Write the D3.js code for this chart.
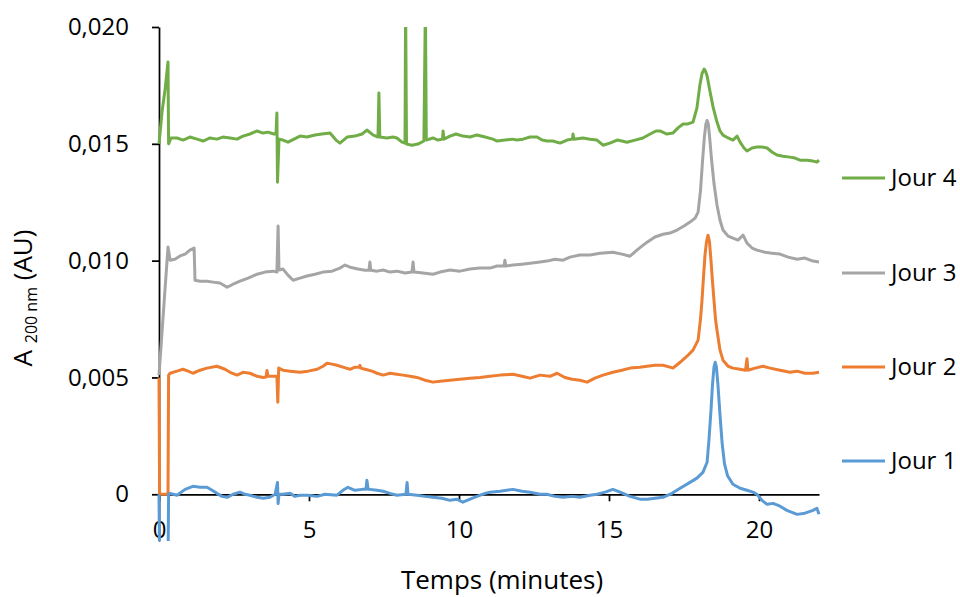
<!DOCTYPE html>
<html>
<head>
<meta charset="utf-8">
<script src="https://cdn.jsdelivr.net/npm/d3@7"></script>
<style>
  html, body { margin: 0; padding: 0; background: #fff; }
  svg { display: block; }
  text { font-family: "Open Sans", sans-serif; fill: #000; }
</style>
</head>
<body>
<svg id="chart" width="960" height="597"></svg>
<script>
// ---- DATA (absorbance in mAU, i.e. 1e-3 AU; time in minutes) ----
const seriesNames = ["Jour 4", "Jour 3", "Jour 2", "Jour 1"];
const seriesColors = ["#70AD47", "#A5A5A5", "#ED7D31", "#5B9BD5"];
const xTicks = [0, 5, 10, 15, 20];
const yTicks = [0, 5, 10, 15, 20];

const jour1 = [[0,0],[0.02,-3],[0.3,-3],[0.32,0],[0.37,0.04],[0.6,-0.04],[0.87,0.21],[1.13,0.34],[1.37,0.30],[1.6,0.30],[1.77,0.17],[1.93,0.04],[2.1,-0.09],[2.27,-0.13],[2.47,0],[2.7,0.09],[2.87,0],[3.03,-0.04],[3.27,-0.13],[3.47,-0.17],[3.7,-0.13],[3.87,0],[3.95,0.5],[3.97,-0.4],[4.0,0],[4.13,0],[4.37,0.04],[4.53,-0.09],[4.7,-0.04],[4.97,-0.04],[5.27,-0.09],[5.53,0],[5.93,-0.04],[6.13,0.17],[6.3,0.30],[6.53,0.17],[6.77,0.21],[6.9,0.21],[6.93,0.6],[6.97,0.21],[7.03,0.21],[7.27,0.17],[7.47,0.13],[7.7,0.04],[7.93,-0.04],[8.23,0],[8.27,0.5],[8.3,0],[8.6,-0.04],[8.87,-0.09],[9.13,-0.13],[9.43,-0.17],[9.7,-0.26],[9.93,-0.21],[10.13,-0.34],[10.37,-0.21],[10.6,-0.09],[10.87,0.04],[11.03,0.09],[11.37,0.13],[11.8,0.21],[12.1,0.13],[12.37,0.09],[12.7,0],[12.93,0],[13.2,-0.09],[13.47,-0.13],[13.77,-0.09],[14.03,-0.13],[14.37,-0.04],[14.6,0],[14.87,0.09],[15.13,0.21],[15.37,0.09],[15.7,-0.09],[16.03,-0.21],[16.27,-0.21],[16.53,-0.17],[16.8,-0.13],[17.1,0.04],[17.37,0.26],[17.7,0.51],[17.93,0.69],[18.13,0.94],[18.27,1.37],[18.33,2.3],[18.4,3.6],[18.45,4.7],[18.5,5.45],[18.54,5.65],[18.58,5.45],[18.63,4.7],[18.7,3.4],[18.77,2.2],[18.85,1.3],[18.95,0.8],[19.13,0.43],[19.37,0.26],[19.6,0.17],[19.8,0.09],[19.93,0],[20.1,-0.26],[20.27,-0.43],[20.47,-0.39],[20.7,-0.51],[20.93,-0.69],[21.27,-0.86],[21.53,-0.81],[21.8,-0.69],[21.93,-0.6],[22,-0.86]];

const jour2 = [[0,5.0],[0.02,0],[0.3,0],[0.32,5.1],[0.37,5.18],[0.6,5.27],[0.8,5.35],[0.97,5.27],[1.13,5.18],[1.37,5.31],[1.6,5.4],[1.93,5.48],[2.2,5.35],[2.37,5.22],[2.6,5.1],[2.8,5.22],[3.03,5.18],[3.27,5.05],[3.47,5.0],[3.57,5.02],[3.6,5.3],[3.63,5.05],[3.8,5.05],[3.93,5.05],[3.96,3.94],[3.99,5.4],[4.13,5.31],[4.37,5.27],[4.7,5.22],[4.97,5.27],[5.27,5.35],[5.47,5.48],[5.6,5.61],[5.77,5.57],[5.93,5.52],[6.13,5.44],[6.37,5.35],[6.53,5.44],[6.68,5.45],[6.7,5.52],[6.72,5.4],[6.87,5.35],[7.1,5.27],[7.27,5.18],[7.47,5.1],[7.7,5.18],[7.93,5.14],[8.13,5.1],[8.37,5.05],[8.6,5.0],[8.87,4.88],[9.13,4.8],[9.37,4.84],[9.7,4.88],[10.03,4.92],[10.37,4.97],[10.7,5.0],[11.03,5.05],[11.37,5.1],[11.8,5.14],[12.1,5.05],[12.37,4.97],[12.7,5.1],[13.03,5.05],[13.27,5.18],[13.53,5.0],[13.77,4.92],[14.03,4.88],[14.27,4.8],[14.53,4.97],[14.8,5.1],[15.13,5.22],[15.43,5.31],[15.7,5.4],[16.03,5.44],[16.27,5.48],[16.53,5.52],[16.8,5.52],[17.03,5.44],[17.13,5.4],[17.37,5.65],[17.6,5.91],[17.8,6.17],[17.97,6.6],[18.05,7.5],[18.1,8.3],[18.15,9.3],[18.2,10.24],[18.25,10.8],[18.3,11.09],[18.35,10.8],[18.4,10.0],[18.45,9.1],[18.5,8.3],[18.55,7.5],[18.6,7.02],[18.7,6.17],[18.8,5.74],[18.97,5.48],[19.13,5.4],[19.37,5.35],[19.55,5.31],[19.6,5.8],[19.63,5.31],[19.87,5.4],[20.13,5.48],[20.37,5.4],[20.7,5.31],[21.03,5.22],[21.27,5.27],[21.53,5.18],[21.8,5.18],[22,5.22]];

const jour3 = [[0,5.1],[0.3,10.58],[0.37,10.02],[0.53,10.06],[0.7,10.2],[0.87,10.28],[1.03,10.45],[1.17,10.54],[1.2,9.16],[1.37,9.12],[1.6,9.12],[1.8,9.08],[2.03,9.04],[2.27,8.86],[2.47,8.99],[2.7,9.12],[2.97,9.25],[3.27,9.42],[3.53,9.51],[3.8,9.55],[3.93,9.51],[3.97,11.48],[4.0,9.6],[4.13,9.64],[4.3,9.38],[4.47,9.16],[4.7,9.25],[4.93,9.34],[5.2,9.42],[5.47,9.51],[5.77,9.55],[6.03,9.68],[6.2,9.81],[6.37,9.72],[6.63,9.64],[6.87,9.59],[7.0,9.59],[7.03,9.94],[7.06,9.59],[7.27,9.55],[7.47,9.6],[7.7,9.51],[7.93,9.55],[8.2,9.47],[8.43,9.51],[8.47,9.94],[8.5,9.51],[8.8,9.47],[9.13,9.42],[9.37,9.51],[9.7,9.6],[10.03,9.55],[10.37,9.64],[10.7,9.68],[11.03,9.68],[11.27,9.77],[11.5,9.77],[11.53,10.02],[11.56,9.77],[11.8,9.81],[12.1,9.85],[12.37,9.89],[12.7,9.94],[12.93,9.98],[13.2,10.06],[13.47,10.02],[13.7,10.15],[14.03,10.24],[14.37,10.24],[14.7,10.32],[15.13,10.36],[15.43,10.28],[15.7,10.19],[15.97,10.49],[16.27,10.79],[16.53,11.01],[16.8,11.13],[17.03,11.18],[17.27,11.31],[17.5,11.48],[17.7,11.65],[17.87,11.82],[17.97,12.08],[18.05,13.0],[18.12,14.3],[18.18,15.3],[18.23,15.85],[18.27,16.0],[18.31,15.85],[18.36,15.2],[18.42,14.3],[18.5,13.3],[18.6,12.38],[18.7,11.73],[18.8,11.31],[18.97,11.05],[19.13,10.96],[19.3,10.88],[19.47,11.09],[19.6,10.75],[19.77,10.54],[19.93,10.45],[20.2,10.36],[20.43,10.32],[20.7,10.28],[20.97,10.15],[21.27,10.06],[21.53,10.11],[21.8,9.98],[22,9.94]];

const jour4 = [[0,15.0],[0.1,16.36],[0.2,17.3],[0.3,18.5],[0.32,15.0],[0.4,15.25],[0.6,15.25],[0.8,15.16],[1.03,15.29],[1.27,15.2],[1.47,15.12],[1.7,15.25],[1.93,15.2],[2.13,15.29],[2.37,15.25],[2.6,15.2],[2.8,15.33],[3.03,15.42],[3.27,15.55],[3.47,15.46],[3.63,15.5],[3.83,15.42],[3.9,15.42],[3.93,16.32],[3.95,13.36],[4.0,15.2],[4.13,15.16],[4.3,15.07],[4.5,15.2],[4.7,15.33],[4.93,15.29],[5.2,15.38],[5.43,15.42],[5.7,15.46],[5.9,15.16],[6.03,15.03],[6.27,15.29],[6.53,15.33],[6.77,15.42],[6.93,15.59],[7.13,15.38],[7.3,15.29],[7.33,17.17],[7.36,15.29],[7.6,15.25],[7.8,15.29],[7.93,15.25],[8.1,15.07],[8.2,15.03],[8.22,21],[8.25,14.99],[8.43,14.94],[8.63,14.99],[8.83,15.12],[8.88,21],[8.91,15.16],[9.13,15.25],[9.3,15.16],[9.45,15.2],[9.47,15.55],[9.5,15.2],[9.7,15.33],[9.9,15.42],[10.13,15.33],[10.37,15.29],[10.6,15.38],[10.87,15.29],[11.13,15.2],[11.27,15.12],[11.53,15.16],[11.77,15.2],[11.93,15.16],[12.13,15.2],[12.37,15.29],[12.6,15.29],[12.77,15.16],[12.93,15.12],[13.13,15.12],[13.37,15.03],[13.6,15.16],[13.78,15.2],[13.8,15.42],[13.83,15.2],[14.13,15.25],[14.37,15.2],[14.6,15.16],[14.8,14.94],[15.03,15.03],[15.27,15.16],[15.43,15.12],[15.6,15.07],[15.87,15.16],[16.13,15.25],[16.37,15.42],[16.57,15.55],[16.7,15.55],[16.93,15.42],[17.13,15.46],[17.3,15.68],[17.47,15.85],[17.63,15.85],[17.8,15.93],[17.93,16.53],[18.03,17.52],[18.1,18.0],[18.17,18.2],[18.22,18.1],[18.27,17.9],[18.37,17.22],[18.47,16.57],[18.6,15.93],[18.7,15.55],[18.8,15.37],[18.97,15.25],[19.13,15.16],[19.27,15.33],[19.37,15.07],[19.5,14.82],[19.6,14.69],[19.77,14.82],[19.93,14.86],[20.1,14.86],[20.27,14.82],[20.43,14.65],[20.6,14.52],[20.8,14.47],[21.03,14.43],[21.2,14.39],[21.37,14.3],[21.6,14.3],[21.8,14.26],[21.93,14.22],[22,14.3]];

const seriesData = [jour4, jour3, jour2, jour1];

// ---- CHART ----
const svg = d3.select("#chart");
const x = d3.scaleLinear().domain([0, 22]).range([159, 819]);
const y = d3.scaleLinear().domain([-2, 20]).range([541, 27]);

const fmtY = v => v === 0 ? "0" : (v / 1000).toFixed(3).replace(".", ",");

// y axis
const gy = svg.append("g").attr("transform", `translate(${x(0)},0)`)
  .call(d3.axisLeft(y).tickValues(yTicks).tickFormat(fmtY).tickSizeInner(7).tickSizeOuter(0).tickPadding(23));
gy.select(".domain").attr("stroke", "#000").attr("stroke-width", 1.75);
gy.selectAll(".tick line").attr("stroke", "#000").attr("stroke-width", 1.75);
gy.selectAll(".tick text").attr("font-family", "Open Sans").attr("font-size", 24).attr("fill", "#000");

// x axis at zero
const gx = svg.append("g").attr("transform", `translate(0,${y(0)})`)
  .call(d3.axisBottom(x).tickValues(xTicks).tickFormat(d3.format("d")).tickSizeInner(7).tickSizeOuter(0).tickPadding(20));
gx.select(".domain").attr("stroke", "#000").attr("stroke-width", 1.75);
gx.selectAll(".tick line").attr("stroke", "#000").attr("stroke-width", 1.75);
gx.selectAll(".tick text").attr("font-family", "Open Sans").attr("font-size", 24).attr("fill", "#000");

// clip
svg.append("clipPath").attr("id", "plotclip").append("rect")
  .attr("x", x(0) - 3).attr("y", y(20)).attr("width", x(22) - x(0) + 6).attr("height", y(-2) - y(20));

const line = d3.line().x(d => x(d[0])).y(d => y(d[1]));
const gl = svg.append("g").attr("clip-path", "url(#plotclip)");
seriesData.forEach((s, i) => {
  gl.append("path").datum(s).attr("d", line)
    .attr("fill", "none").attr("stroke", seriesColors[i])
    .attr("stroke-width", 3).attr("stroke-linejoin", "round");
});

// legend
const legendY = [178, 273, 367, 461];
seriesNames.forEach((n, i) => {
  svg.append("line").attr("x1", 842).attr("x2", 885).attr("y1", legendY[i]).attr("y2", legendY[i])
    .attr("stroke", seriesColors[i]).attr("stroke-width", 3);
  svg.append("text").attr("x", 891).attr("y", legendY[i]).attr("dy", "0.35em")
    .attr("font-size", 24).text(n);
});

// axis titles
svg.append("text").attr("x", 502).attr("y", 589).attr("text-anchor", "middle")
  .attr("font-size", 26).text("Temps (minutes)");

const yt = svg.append("text").attr("transform", "translate(32,298) rotate(-90)")
  .attr("text-anchor", "middle").attr("font-size", 26);
yt.append("tspan").text("A ");
yt.append("tspan").attr("font-size", 16).attr("dy", 5).text("200 nm");
yt.append("tspan").attr("dy", -5).text(" (AU)");
</script>
</body>
</html>
